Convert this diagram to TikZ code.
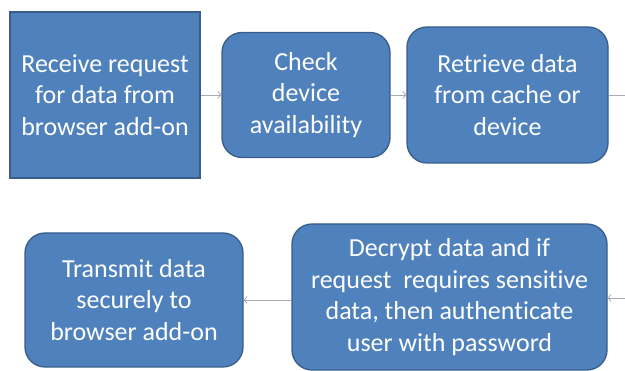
\documentclass[tikz,border=0pt]{standalone}
\usepackage{fontspec}
\setmainfont{Carlito}[Ligatures=NoCommon]
\usetikzlibrary{arrows.meta}
\definecolor{boxblue}{HTML}{4F81BD}
\definecolor{boxedge}{HTML}{385D8A}
\definecolor{linkgray}{HTML}{A5ABB5}
\begin{document}
\begin{tikzpicture}[x=1pt,y=-1pt,
  stepbox/.style={draw=boxedge,line width=1.3pt,fill=boxblue,text=white,
    align=center,font=\fontsize{26}{31.5}\selectfont,inner sep=0pt},
  roundbox/.style={stepbox,rounded corners=20pt},
  link/.style={draw=linkgray,line width=0.8pt,-{Straight Barb[length=3pt,width=7pt]}}]
\useasboundingbox (0,0) rectangle (625,371);
% Top row of steps
\node[stepbox,minimum width=190pt,minimum height=166pt] (recv) at (105,95)
  {Receive request\\for data from\\browser add-on};
\node[roundbox,minimum width=168pt,minimum height=125pt] (check) at (306,95)
  {Check\\device\\availability};
\node[roundbox,minimum width=201pt,minimum height=136pt] (retr) at (507.5,95)
  {Retrieve data\\from cache or\\device};
% Bottom row of steps
\node[roundbox,minimum width=315pt,minimum height=146pt] (decr) at (449.5,297)
  {Decrypt data and if\\request~ requires sensitive\\data, then authenticate\\user with password};
\node[roundbox,minimum width=218pt,minimum height=134pt] (send) at (134,300)
  {Transmit data\\securely to\\browser add-on};
% Loose ends at the right edge
\coordinate (outtop) at (625,95);
\coordinate (inbot) at (625,298);
% Connectors
\draw[link] (recv) -- (check);
\draw[link] (check) -- (retr);
\draw[draw=linkgray,line width=0.8pt] (retr) -- (outtop);
\draw[link] (inbot) -- (decr.east |- inbot);
\draw[link] (decr.west |- send) -- (send);
\end{tikzpicture}
\end{document}
